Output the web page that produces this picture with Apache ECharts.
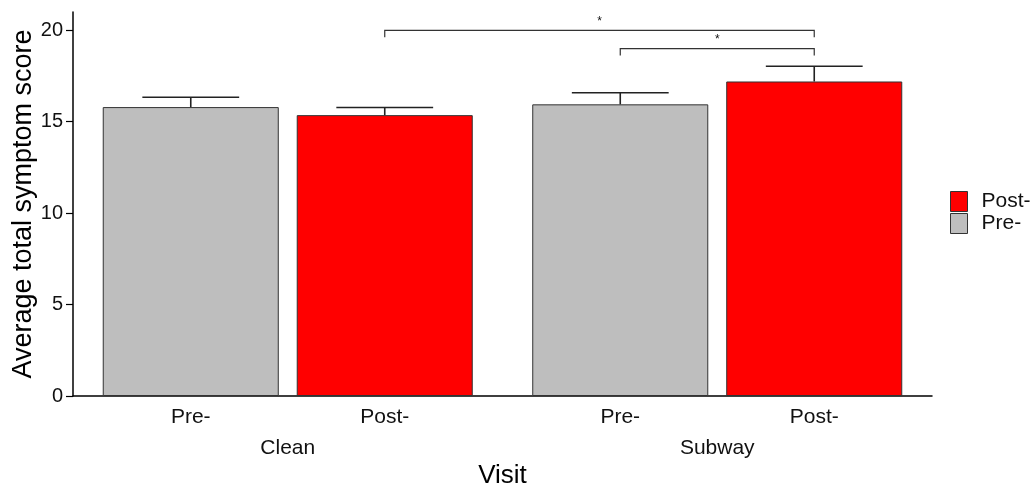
<!DOCTYPE html>
<html>
<head>
<meta charset="utf-8">
<script src="https://cdn.jsdelivr.net/npm/echarts@6/dist/echarts.min.js"></script>
<style>html,body{margin:0;padding:0;background:#fff}#c{width:1033px;height:486px}</style>
</head>
<body>
<div id="c"></div>
<script>
const categories = ['Clean', 'Subway'];
const seriesNames = ['Pre-', 'Post-'];
const preMeans = [15.8, 15.95];
const postMeans = [15.36, 17.2];
const preUpper = [16.34, 16.58];
const postUpper = [15.78, 18.03];
// [fromCategory, fromSeries, toCategory, toSeries, height, label]
const brackets = [[0, 1, 1, 1, 20, '*'], [1, 0, 1, 1, 19, '*']];
const yTicks = [0, 5, 10, 15, 20];

const CAT_GAP = 0.1385, BAR_GAP = 0.102;
function barCenter(api, cat, ser, val) {
  const p = api.coord([cat, val]);
  const band = api.size([1, 0])[0];
  const bw = band * (1 - CAT_GAP) / (2 + BAR_GAP);
  const off = bw * (1 + BAR_GAP) / 2;
  return {x: p[0] + (ser === 0 ? -off : off), y: p[1], bw: bw};
}

const errData = [];
for (let i = 0; i < categories.length; i++) {
  errData.push([i, 0, preMeans[i], preUpper[i]]);
  errData.push([i, 1, postMeans[i], postUpper[i]]);
}

const chart = echarts.init(document.getElementById('c'), null, {renderer: 'canvas'});
const font = 'Liberation Sans, Arial, sans-serif';
chart.setOption({
  animation: false,
  textStyle: {fontFamily: font},
  grid: {left: 73, right: 101, top: 12, bottom: 90, outerBoundsMode: 'none', containLabel: false},
  legend: {
    orient: 'vertical', left: 945, top: 186,
    data: ['Post-', 'Pre-'],
    itemWidth: 17, itemHeight: 20, itemGap: 1,
    icon: 'rect',
    textStyle: {fontSize: 21, color: '#111', fontFamily: font, padding: [0, 0, 0, 9]},
    itemStyle: {borderColor: '#333', borderWidth: 1}
  },
  xAxis: {
    type: 'category', data: categories,
    axisLine: {lineStyle: {color: '#000', width: 1.5}},
    axisTick: {show: false},
    axisLabel: {margin: 42, fontSize: 21, color: '#111', fontFamily: font},
    name: 'Visit', nameLocation: 'middle', nameGap: 67, nameMoveOverlap: false,
    nameTextStyle: {fontSize: 26, color: '#000', fontFamily: font}
  },
  yAxis: {
    type: 'value', min: 0, max: 21, interval: 5,
    axisLine: {show: true, lineStyle: {color: '#000', width: 1.5}},
    axisTick: {show: true, length: 7, lineStyle: {color: '#000', width: 1.2},
      customValues: yTicks},
    axisLabel: {fontSize: 20, color: '#111', margin: 10, fontFamily: font, customValues: yTicks},
    splitLine: {show: false},
    name: 'Average total symptom score', nameLocation: 'middle', nameGap: 36, nameMoveOverlap: false,
    nameTextStyle: {fontSize: 27, color: '#000', fontFamily: font}
  },
  series: [
    {
      name: 'Pre-', type: 'bar', data: preMeans,
      barCategoryGap: (CAT_GAP * 100) + '%', barGap: (BAR_GAP * 100) + '%',
      itemStyle: {color: '#BEBEBE', borderColor: '#333', borderWidth: 1},
      label: {show: true, position: 'bottom', distance: 11, formatter: '{a}', fontSize: 21, color: '#111', fontFamily: font}
    },
    {
      name: 'Post-', type: 'bar', data: postMeans,
      barCategoryGap: (CAT_GAP * 100) + '%', barGap: (BAR_GAP * 100) + '%',
      itemStyle: {color: '#FF0000', borderColor: '#333', borderWidth: 1},
      label: {show: true, position: 'bottom', distance: 11, formatter: '{a}', fontSize: 21, color: '#111', fontFamily: font}
    },
    {
      type: 'custom', name: 'err', data: errData, z: 5, silent: true,
      renderItem: function (params, api) {
        const cat = api.value(0), ser = api.value(1);
        const lo = barCenter(api, cat, ser, api.value(2));
        const hi = barCenter(api, cat, ser, api.value(3));
        const hw = lo.bw * 0.275;
        const st = {stroke: '#222', lineWidth: 1.6};
        return {type: 'group', children: [
          {type: 'line', shape: {x1: lo.x, y1: lo.y, x2: hi.x, y2: hi.y}, style: st},
          {type: 'line', shape: {x1: hi.x - hw, y1: hi.y, x2: hi.x + hw, y2: hi.y}, style: st}
        ]};
      }
    },
    {
      type: 'custom', name: 'sig', data: brackets, z: 6, silent: true,
      renderItem: function (params, api) {
        const b = brackets[params.dataIndex];
        const a = barCenter(api, b[0], b[1], b[4]);
        const c = barCenter(api, b[2], b[3], b[4]);
        const st = {stroke: '#333', lineWidth: 1.2, fill: null};
        return {type: 'group', children: [
          {type: 'polyline', shape: {points: [[a.x, a.y + 7], [a.x, a.y], [c.x, c.y], [c.x, c.y + 7]]}, style: st},
          {type: 'text', style: {text: b[5], x: (a.x + c.x) / 2, y: a.y - 3, align: 'center', verticalAlign: 'bottom',
            fontSize: 12, fill: '#111', font: '12px ' + font}}
        ]};
      }
    }
  ]
});
</script>
</body>
</html>
